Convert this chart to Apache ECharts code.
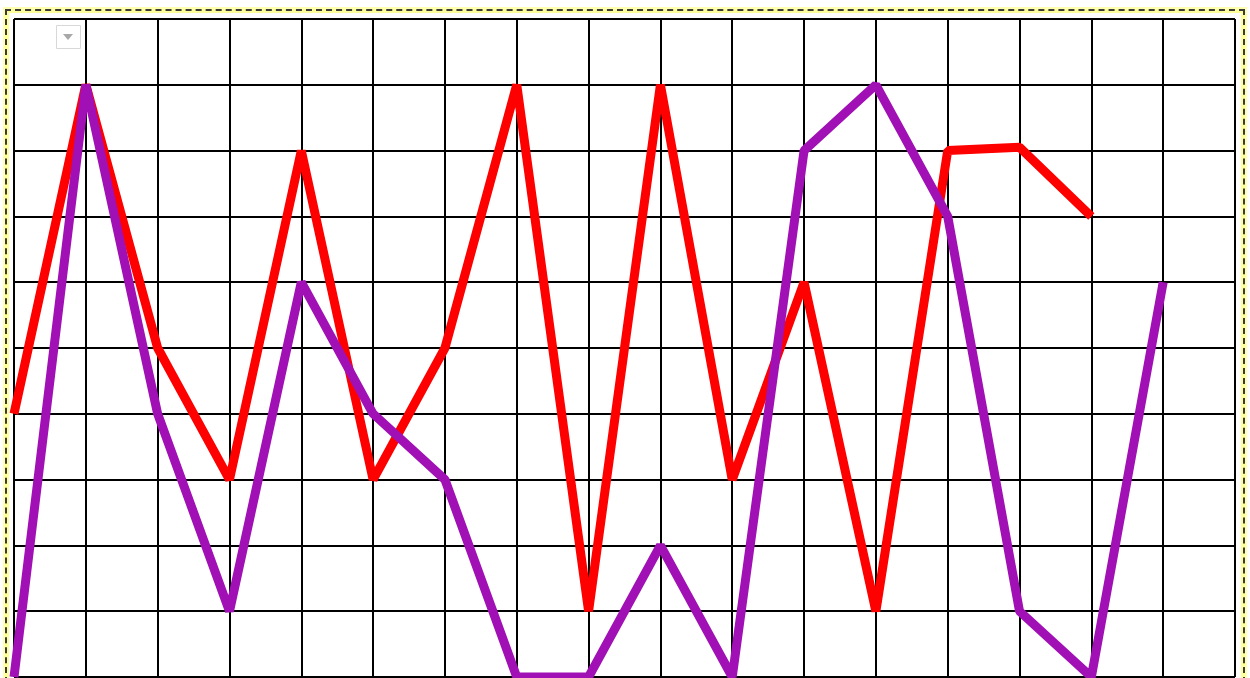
<!DOCTYPE html>
<html>
<head>
<meta charset="utf-8">
<script src="https://cdn.jsdelivr.net/npm/echarts@6/dist/echarts.min.js"></script>
<style>
html,body{margin:0;padding:0;background:#fff;width:1250px;height:678px;overflow:hidden;}
#frame{position:absolute;left:5px;top:9px;width:1236px;height:700px;border:2px dashed #3a3a3a;background:#ffff9a;box-shadow:0 0 0 2px #ffffb0;}
#inner{position:absolute;left:2px;top:2px;right:2px;bottom:2px;background:#fff;}
#chart{position:absolute;left:0;top:0;width:1250px;height:678px;}
</style>
</head>
<body>
<div id="frame"><div id="inner"></div></div>
<div id="chart"></div>
<script>
const categories = ['0','1','2','3','4','5','6','7','8','9','10','11','12','13','14','15','16','17'];
const redValues = [4, 9, 5, 3, 8, 3, 5, 9, 1, 9, 3, 6, 1, 8, 8.05, 7];
const purpleValues = [0, 9, 4, 1, 6, 4, 3, 0, 0, 2, 0, 8, 9, 7, 1, 0, 6];
const yTicks = [0, 10, 1];

const chart = echarts.init(document.getElementById('chart'), null, {renderer: 'canvas'});
chart.setOption({
  animation: false,
  backgroundColor: 'transparent',
  grid: {left: 14, top: 19, width: 1221, height: 658, containLabel: false},
  xAxis: {
    type: 'category',
    data: categories,
    boundaryGap: false,
    axisLine: {show: false},
    axisTick: {show: false},
    axisLabel: {show: false},
    splitLine: {show: true, lineStyle: {color: '#000', width: 2}}
  },
  yAxis: {
    type: 'value',
    min: yTicks[0], max: yTicks[1], interval: yTicks[2],
    axisLine: {show: false},
    axisTick: {show: false},
    axisLabel: {show: false},
    splitLine: {show: true, lineStyle: {color: '#000', width: 2}}
  },
  graphic: [
    {type: 'rect', left: 56, top: 25, shape: {width: 24, height: 23}, style: {fill: '#fff', stroke: '#d8d8d8', lineWidth: 1}, z: 100},
    {type: 'polygon', shape: {points: [[63, 34], [73, 34], [68, 40]]}, style: {fill: '#a8a8a8'}, z: 101}
  ],
  series: [
    {type: 'line', data: redValues, showSymbol: false, lineStyle: {color: '#ff0000', width: 9}, itemStyle: {color: '#ff0000'}, z: 3},
    {type: 'line', data: purpleValues, showSymbol: false, lineStyle: {color: '#a010b5', width: 9}, itemStyle: {color: '#a010b5'}, z: 4}
  ]
});
</script>
</body>
</html>
